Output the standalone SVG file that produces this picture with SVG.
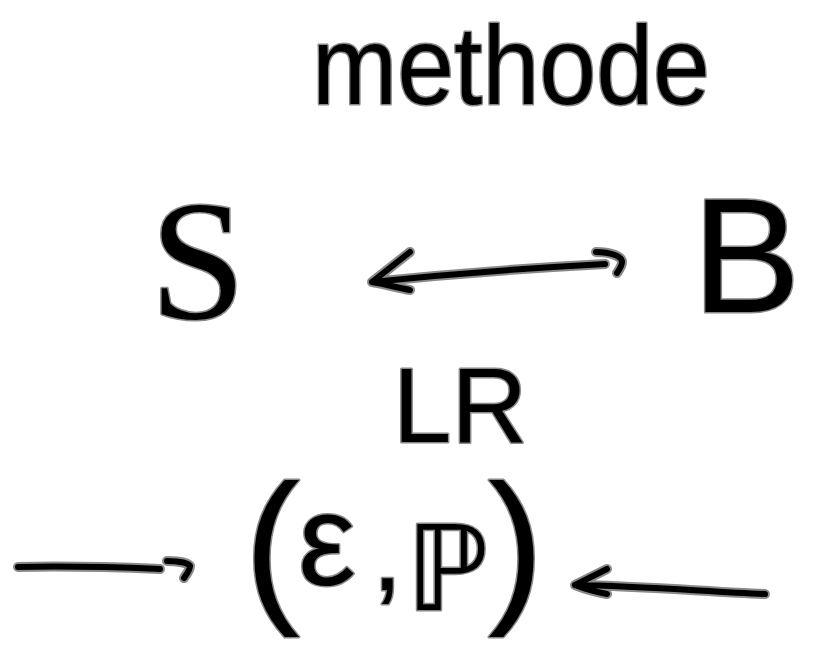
<svg xmlns="http://www.w3.org/2000/svg" xmlns:xlink="http://www.w3.org/1999/xlink" width="818" height="659" viewBox="0 0 818 659">
<style>
.ink{fill:#000;stroke:#8a8a8a;stroke-width:3;paint-order:stroke;stroke-linejoin:round}
.sans{font-family:"Liberation Sans","DejaVu Sans",sans-serif}
.serif{font-family:"Liberation Serif","DejaVu Serif",serif}
.halo{fill:none;stroke:#8a8a8a;stroke-width:10;stroke-linecap:round;stroke-linejoin:round}
.line{fill:none;stroke:#000;stroke-width:6;stroke-linecap:round;stroke-linejoin:round}
</style>
<defs>
<path id="c1" d="M372,282 C450,274 530,268 605,264 M372,282 L410,252 M372,282 C385,284 398,288 410,290 M596,252 C610,252 622,256 622,262 C622,266 619,270 617,273"/>
<path id="c2" d="M18,567 C60,566 110,567 160,569 M167,561 C178,561 188,563 190,566 C190,570 186,575 184,578"/>
<path id="c3" d="M765,594 C700,591 640,586 575,585 M575,585 L607,569 M575,585 C585,589 596,592 607,594"/>
</defs>
<rect width="818" height="659" fill="#fff"/>
<g id="title"><text class="ink sans" x="312" y="104" font-size="112" textLength="398" lengthAdjust="spacingAndGlyphs">methode</text></g>
<g id="nodeS"><text class="ink serif" x="150" y="318" font-size="172">S</text></g>
<g id="nodeB"><text class="ink sans" x="692" y="312" font-size="163">B</text></g>
<g id="nodeLR"><text class="ink sans" x="393" y="442" font-size="105">LR</text></g>
<g id="nodeEP"><text class="ink sans" y="602"><tspan x="244" font-size="168">(</tspan><tspan x="298" y="585" font-size="130">ε</tspan><tspan x="372" y="590" font-size="110">,</tspan><tspan x="406" y="610" font-size="118" font-family="DejaVu Sans">ℙ</tspan><tspan x="488" y="602" font-size="168">)</tspan></text></g>
<g id="connectors">
<use xlink:href="#c1" class="halo"/><use xlink:href="#c1" class="line"/>
<use xlink:href="#c2" class="halo"/><use xlink:href="#c2" class="line"/>
<use xlink:href="#c3" class="halo"/><use xlink:href="#c3" class="line"/>
</g>
</svg>
